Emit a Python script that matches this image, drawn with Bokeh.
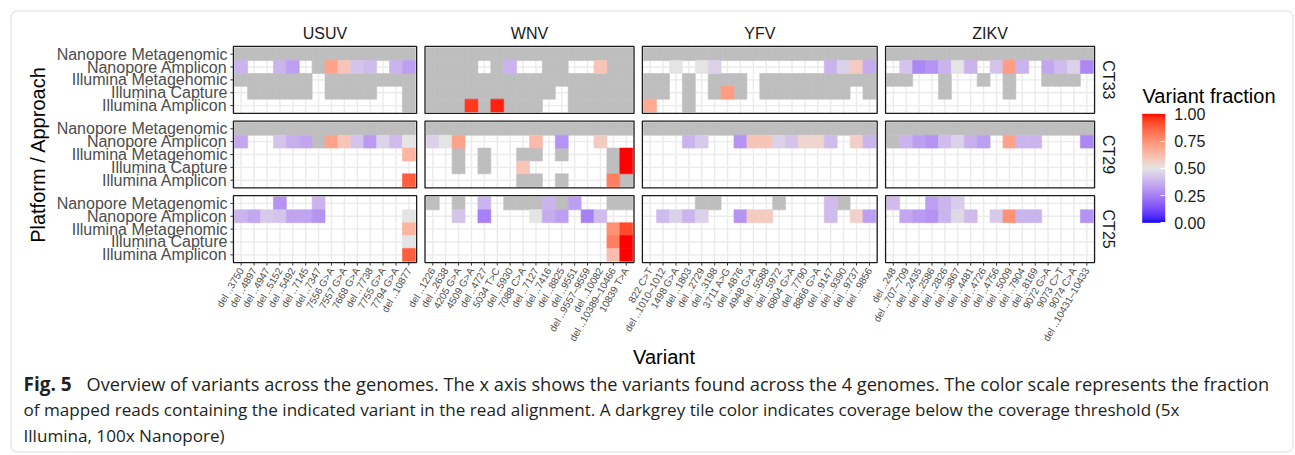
import math
import numpy as np
from bokeh.plotting import figure
from bokeh.models import (ColumnDataSource, FixedTicker, LinearColorMapper, ColorBar,
                          BoxAnnotation, Range1d, PrintfTickFormatter)
from bokeh.transform import transform
from bokeh.core.properties import value
from bokeh.embed import file_html
from bokeh.resources import INLINE

# ---------------- data ----------------
G = "low"   # coverage below threshold -> dark grey tile
_ = None    # no variant call -> no tile

platforms = ["Nanopore Metagenomic", "Nanopore Amplicon", "Illumina Metagenomic",
             "Illumina Capture", "Illumina Amplicon"]
samples = ["CT33", "CT29", "CT25"]
viruses = ["USUV", "WNV", "YFV", "ZIKV"]

usuv_variants = ["del ..3750", "del ..4897", "del ..4947", "del ..5152", "del ..5492", "del ..7145",
                 "del ..7347", "7556 G>A", "7557 G>A", "7668 G>A", "del ..7738", "7755 G>A",
                 "7794 G>A", "del ..10877"]
wnv_variants = ["del ..1226", "del ..2638", "4205 G>A", "4509 G>A", "del ..4727", "5034 T>C",
                "del ..5930", "7088 C>A", "del ..7127", "del ..7416", "del ..8825", "del ..9551",
                "del ..9557\u20139559", "del ..10082", "del ..10389\u201310466", "10839 T>A"]
yfv_variants = ["822 C>T", "del ..1010\u20131012", "1498 G>A", "del ..1803", "del ..2729",
                "del ..3198", "3711 A>G", "del ..4876", "4948 G>A", "del ..5588", "del ..5972",
                "6804 G>A", "del ..7790", "8866 G>A", "del ..9147", "del ..9390", "del ..9737",
                "del ..9856"]
zikv_variants = ["del ..248", "del ..707\u2013709", "del ..2435", "del ..2586", "del ..2826",
                 "del ..3867", "del ..4481", "del ..4726", "del ..4756", "del ..5009", "del ..7904",
                 "del ..8169", "9072 G>A", "9073 C>T", "9074 C>A", "del ..10431\u201310433"]

# rows in platform order (Nanopore Metagenomic ... Illumina Amplicon)
usuv_ct33 = [[G] * 14,
             [0.38, _, _, 0.38, 0.33, _, G, 0.70, 0.60, 0.42, 0.40, _, 0.38, 0.33],
             [G, G, G, G, G, G, _, G, G, G, G, G, G, G],
             [_, G, G, G, G, G, _, G, G, G, G, _, _, G],
             [_] * 13 + [G]]
usuv_ct29 = [[G] * 14,
             [0.35, _, _, 0.42, 0.37, 0.35, G, 0.70, 0.60, 0.42, 0.32, 0.46, 0.40, 0.50],
             [_] * 13 + [0.65],
             [_] * 14,
             [_] * 13 + [0.88]]
usuv_ct25 = [[_, _, _, 0.30, _, _, 0.38, _, _, _, _, _, _, _],
             [0.38, 0.35, 0.43, 0.42, 0.34, 0.34, 0.30, _, _, _, _, _, _, 0.50],
             [_] * 13 + [0.65],
             [_] * 13 + [0.50],
             [_] * 13 + [0.88]]

wnv_ct33 = [[G] * 16,
            [G, G, G, G, _, G, 0.38, _, _, G, G, _, _, 0.60, G, G],
            [G] * 16,
            [G, G, G, G, G, G, G, G, G, G, _, G, G, G, G, G],
            [G, G, G, 0.95, G, 0.98, G, G, G, _, _, G, G, G, G, G]]
wnv_ct29 = [[G] * 16,
            [0.45, 0.50, 0.70, _, _, _, _, _, 0.63, _, 0.30, _, _, 0.58, _, _],
            [_, _, G, _, G, _, _, G, G, _, G, _, _, _, G, 1.00],
            [_, _, G, _, G, _, _, 0.60, _, _, _, _, _, _, G, 1.00],
            [_, _, _, _, _, _, _, G, G, _, G, _, _, _, 0.80, G]]
wnv_ct25 = [[G, _, G, _, 0.38, _, G, G, G, 0.38, G, 0.33, _, _, G, G],
            [_, _, 0.42, _, 0.25, _, _, _, 0.50, 0.36, 0.33, _, 0.25, 0.40, _, _],
            [_] * 14 + [0.75, 0.92],
            [_] * 14 + [0.80, 1.00],
            [_] * 14 + [0.62, 1.00]]

yfv_ct33 = [[G] * 18,
            [_, _, 0.50, _, 0.50, 0.45, _, _, _, _, _, _, _, _, 0.38, 0.45, 0.58, 0.36],
            [G, G, _, G, _, G, G, G, _, G, G, G, G, G, G, G, G, G],
            [G, G, _, G, _, G, 0.72, G, _, G, G, G, G, G, G, G, _, G],
            [0.68, _, _, G, _, _, _, _, _, _, _, _, _, _, _, _, _, _]]
yfv_ct29 = [[G] * 18,
            [_, _, _, 0.38, 0.43, _, _, 0.30, 0.60, 0.60, 0.45, 0.42, 0.55, 0.55, 0.40, _, 0.57, 0.38],
            [_] * 18, [_] * 18, [_] * 18]
yfv_ct25 = [[_, _, _, _, G, G, _, _, _, _, G, _, _, _, 0.40, G, _, _],
            [_, 0.40, 0.45, 0.38, 0.45, _, _, 0.30, 0.58, 0.58, _, _, _, _, 0.40, _, 0.56, 0.33],
            [_] * 18, [_] * 18, [_] * 18]

zikv_ct33 = [[G] * 16,
             [_, 0.42, 0.27, 0.30, 0.38, 0.50, 0.38, _, 0.42, 0.72, 0.38, _, 0.35, 0.40, 0.45, 0.27],
             [G, G, _, _, G, _, _, G, _, G, _, _, G, G, G, _],
             [_, _, _, _, G, _, _, _, _, G, _, _, _, _, _, _],
             [_] * 16]
zikv_ct29 = [[G] * 16,
             [G, 0.38, 0.33, 0.30, 0.40, 0.45, 0.37, 0.33, _, 0.70, 0.38, 0.38, _, _, _, 0.27],
             [_] * 16, [_] * 16, [_] * 16]
zikv_ct25 = [[0.40, _, _, 0.33, 0.38, 0.44, _, _, _, _, _, _, _, _, _, _],
             [_, 0.35, 0.32, 0.30, 0.38, 0.47, 0.40, _, 0.43, 0.75, 0.38, 0.38, _, _, _, 0.30],
             [_] * 16, [_] * 16, [_] * 16]

variants = {"USUV": usuv_variants, "WNV": wnv_variants, "YFV": yfv_variants, "ZIKV": zikv_variants}
grids = {
    ("USUV", "CT33"): usuv_ct33, ("USUV", "CT29"): usuv_ct29, ("USUV", "CT25"): usuv_ct25,
    ("WNV", "CT33"): wnv_ct33, ("WNV", "CT29"): wnv_ct29, ("WNV", "CT25"): wnv_ct25,
    ("YFV", "CT33"): yfv_ct33, ("YFV", "CT29"): yfv_ct29, ("YFV", "CT25"): yfv_ct25,
    ("ZIKV", "CT33"): zikv_ct33, ("ZIKV", "CT29"): zikv_ct29, ("ZIKV", "CT25"): zikv_ct25,
}
x_title = "Variant"
y_title = "Platform / Approach"
legend_title = "Variant fraction"
legend_ticks = [0.0, 0.25, 0.5, 0.75, 1.0]

caption_bold = "Fig. 5"
caption_lines = [
    "Overview of variants across the genomes. The x axis shows the variants found across the 4 genomes. The color scale represents the fraction",
    "of mapped reads containing the indicated variant in the read alignment. A darkgrey tile color indicates coverage below the coverage threshold (5x",
    "Illumina, 100x Nanopore)",
]

# ---------------- colour scale (ggplot gradient2, Lab interpolation) ----------------
_M = np.array([[0.4124564, 0.3575761, 0.1804375],
               [0.2126729, 0.7151522, 0.0721750],
               [0.0193339, 0.1191920, 0.9503041]])
_WP = np.array([0.95047, 1.0, 1.08883])


def hex_to_lab(h):
    rgb = np.array([int(h[i:i + 2], 16) for i in (1, 3, 5)]) / 255.0
    lin = np.where(rgb > 0.04045, ((rgb + 0.055) / 1.055) ** 2.4, rgb / 12.92)
    t = (_M @ lin) / _WP
    d = 6 / 29
    f = np.where(t > d ** 3, np.cbrt(t), t / (3 * d * d) + 4 / 29)
    return np.array([116 * f[1] - 16, 500 * (f[0] - f[1]), 200 * (f[1] - f[2])])


def lab_to_hex(lab):
    L, a, b = lab
    fy = (L + 16) / 116
    f = np.array([fy + a / 500, fy, fy - b / 200])
    d = 6 / 29
    t = np.where(f > d, f ** 3, 3 * d * d * (f - 4 / 29))
    lin = np.clip(np.linalg.inv(_M) @ (t * _WP), 0, 1)
    rgb = np.where(lin > 0.0031308, 1.055 * lin ** (1 / 2.4) - 0.055, 12.92 * lin)
    return "#%02x%02x%02x" % tuple(int(round(c * 255)) for c in np.clip(rgb, 0, 1))


low_c, mid_c, high_c = hex_to_lab("#0000FF"), hex_to_lab("#E5E5E5"), hex_to_lab("#FF0000")
palette = []
for i in range(256):
    t = i / 255
    if t <= 0.5:
        palette.append(lab_to_hex(low_c + (mid_c - low_c) * (t / 0.5)))
    else:
        palette.append(lab_to_hex(mid_c + (high_c - mid_c) * ((t - 0.5) / 0.5)))
mapper = LinearColorMapper(palette=palette, low=0, high=1)

# ---------------- facet layout in data units ----------------
CELL, PAD, XGAP, YGAP = 20, 2, 13, 12
x_left = {}
pos = 0
for v in viruses:
    x_left[v] = pos
    pos += len(variants[v]) * CELL + 2 * PAD + XGAP
X_TOTAL = pos - XGAP
PANEL_H = len(platforms) * CELL + 2 * PAD
y_bottom = {}
pos = 0
for s in reversed(samples):
    y_bottom[s] = pos
    pos += PANEL_H + YGAP
Y_TOTAL = pos - YGAP


def col_x(v, i):
    return x_left[v] + PAD + CELL * i + CELL // 2


def row_y(s, r):
    return y_bottom[s] + PAD + CELL * (len(platforms) - 1 - r) + CELL // 2


frac = dict(x=[], y=[], v=[])
grey = dict(x=[], y=[])
seg = dict(x0=[], y0=[], x1=[], y1=[])
box = dict(x=[], y=[], w=[], h=[])
for v in viruses:
    n = len(variants[v])
    for s in samples:
        pw = n * CELL + 2 * PAD
        box["x"].append(x_left[v] + pw / 2)
        box["y"].append(y_bottom[s] + PANEL_H / 2)
        box["w"].append(pw)
        box["h"].append(PANEL_H)
        for i in range(n):
            seg["x0"].append(col_x(v, i)); seg["x1"].append(col_x(v, i))
            seg["y0"].append(y_bottom[s]); seg["y1"].append(y_bottom[s] + PANEL_H)
        for r in range(len(platforms)):
            seg["x0"].append(x_left[v]); seg["x1"].append(x_left[v] + pw)
            seg["y0"].append(row_y(s, r)); seg["y1"].append(row_y(s, r))
        for r, row in enumerate(grids[(v, s)]):
            for i, val in enumerate(row):
                if val is None:
                    continue
                if val == G:
                    grey["x"].append(col_x(v, i)); grey["y"].append(row_y(s, r))
                else:
                    frac["x"].append(col_x(v, i)); frac["y"].append(row_y(s, r)); frac["v"].append(val)

# ---------------- canvas geometry ----------------
W, H = 1295, 455
KX = 865 / (X_TOTAL + 6)      # px per data unit
KY = 220 / (Y_TOTAL + 6)
PX0 = 231 + 3 * KX            # canvas x of data x = 0
PY0 = 264 - 3 * KY            # canvas y of data y = 0


def dx(px):
    return (px - PX0) / KX


def dy(py):
    return (PY0 - py) / KY


FONT = "Liberation Sans"
p = figure(width=W, height=H, x_range=Range1d(dx(0), dx(W)), y_range=Range1d(dy(H), dy(0)),
           x_axis_location=None, y_axis_location=None, min_border=0,
           output_backend="svg", toolbar_location=None,
           outline_line_color=None, background_fill_color="white", border_fill_color="white")
p.xgrid.visible = False
p.ygrid.visible = False

# panel grid, tiles, panel borders
p.segment(x0="x0", y0="y0", x1="x1", y1="y1", source=ColumnDataSource(seg),
          line_color="#EBEBEB", line_width=1.4)
p.rect(x="x", y="y", width=CELL, height=CELL, source=ColumnDataSource(grey),
       fill_color="#BEBEBE", line_color="#BEBEBE", line_width=0.6)
p.rect(x="x", y="y", width=CELL, height=CELL, source=ColumnDataSource(frac),
       fill_color=transform("v", mapper), line_color=transform("v", mapper), line_width=0.6)
p.rect(x="x", y="y", width="w", height="h", source=ColumnDataSource(box),
       fill_color=None, line_color="#1A1A1A", line_width=1.3)

# x axis (variants) under the bottom row of panels
xticks = [col_x(v, i) for v in viruses for i in range(len(variants[v]))]
xlabels = [lab for v in viruses for lab in variants[v]]
p.segment(x0=xticks, x1=xticks, y0=[0] * len(xticks), y1=[-3 / KY] * len(xticks),
          line_color="#333333", line_width=1)
p.text(x=xticks, y=[0] * len(xticks), text=xlabels, angle=math.pi / 3, y_offset=6,
       text_align="right", text_baseline="middle", text_font=value(FONT),
       text_font_size=value("10px"), text_color="#4D4D4D")

# y axis (platforms) left of the first column of panels
yticks = [row_y(s, r) for s in samples for r in range(len(platforms))]
ylabels = [pl for s in samples for pl in platforms]
p.segment(x0=[-3 / KX] * len(yticks), x1=[0] * len(yticks), y0=yticks, y1=yticks,
          line_color="#333333", line_width=1)
p.text(x=[0] * len(yticks), y=yticks, text=ylabels, x_offset=-6,
       text_align="right", text_baseline="middle", text_font=value(FONT),
       text_font_size=value("16px"), text_color="#4D4D4D")

# facet strips
vt = [x_left[v] + (len(variants[v]) * CELL + 2 * PAD) / 2 for v in viruses]
p.text(x=vt, y=[Y_TOTAL] * len(vt), text=viruses, y_offset=-13, text_align="center",
       text_baseline="middle", text_font=value(FONT), text_font_size=value("16px"),
       text_color="#1A1A1A")
st = [y_bottom[s] + PANEL_H / 2 for s in samples]
p.text(x=[X_TOTAL] * len(st), y=st, text=samples, x_offset=13.5, angle=-math.pi / 2,
       text_align="center", text_baseline="middle", text_font=value(FONT),
       text_font_size=value("16px"), text_color="#1A1A1A")

# axis titles
p.text(x=[X_TOTAL / 2], y=[dy(356.5)], text=[x_title], text_align="center",
       text_baseline="middle", text_font=value(FONT), text_font_size=value("20px"),
       text_color="black")
p.text(x=[dx(37)], y=[Y_TOTAL / 2], text=[y_title], angle=math.pi / 2, text_align="center",
       text_baseline="middle", text_font=value(FONT), text_font_size=value("20px"),
       text_color="black")

# colour bar legend
cb = ColorBar(color_mapper=mapper, ticker=FixedTicker(ticks=legend_ticks),
              formatter=PrintfTickFormatter(format="%.2f"),
              location=(1141.7, H - 222.3), width=23, height=109, padding=0,
              major_label_text_font=FONT, major_label_text_font_size="16px",
              major_label_text_color="#1A1A1A", label_standoff=9,
              major_tick_in=5, major_tick_out=0, major_tick_line_color="white",
              minor_tick_line_color=None, bar_line_color=None,
              background_fill_alpha=0, border_line_color=None)
p.add_layout(cb, "center")
p.text(x=[dx(1142)], y=[dy(95)], text=[legend_title], text_align="left",
       text_baseline="middle", text_font=value(FONT), text_font_size=value("20px"),
       text_color="black")

# caption
CAP_FONT = "Open Sans"
CAP_COL = "#231F20"
p.text(x=[dx(23)], y=[dy(383)], text=[caption_bold], text_align="left", text_baseline="middle",
       text_font=value(CAP_FONT), text_font_size=value("19px"), text_font_style="bold",
       text_color=CAP_COL)
p.text(x=[dx(86)], y=[dy(383)], text=[caption_lines[0]], text_align="left",
       text_baseline="middle", text_font=value(CAP_FONT), text_font_size=value("18.2px"),
       text_color=CAP_COL)
p.text(x=[dx(23), dx(23)], y=[dy(409), dy(435)], text=caption_lines[1:],
       text_align="left", text_baseline="middle", text_font=value(CAP_FONT),
       text_font_size=value("17.1px"), text_color=CAP_COL)

# outer frame of the figure box
p.add_layout(BoxAnnotation(left=dx(10.5), right=dx(1292.5), top=dy(10.5), bottom=dy(451.5),
                           fill_alpha=0, line_color="#8A8A8A", line_width=1, border_radius=6))

open("out.html", "w").write(file_html(p, INLINE))
